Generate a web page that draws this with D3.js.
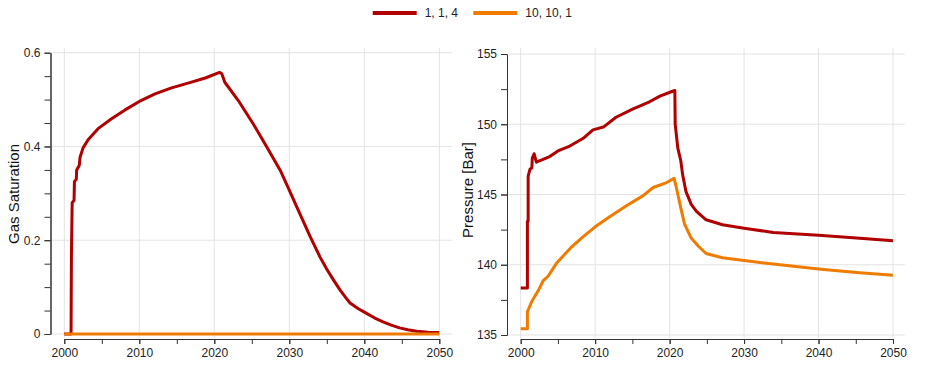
<!DOCTYPE html>
<html>
<head>
<meta charset="utf-8">
<script src="https://cdn.jsdelivr.net/npm/d3@7"></script>
<style>
  body { margin: 0; background: #fff; }
  svg { display: block; font-family: "Liberation Sans", Arial, sans-serif; }
  .grid line { stroke: #e3e3e3; stroke-width: 1; }
  .axis path, .axis line { stroke: #333; }
  .axis text { fill: #222; font-size: 12px; }
</style>
</head>
<body>
<svg width="925" height="366"></svg>
<script>
// series names + colours
var seriesNames = ["1, 1, 4", "10, 10, 1"];
var seriesColors = ["#b00000", "#ef7b00"];

// gas saturation, case "1, 1, 4"
var satYearsA = [2000, 2000.9, 2000.95, 2001.05, 2001.3, 2001.35, 2001.6, 2001.65, 2002.0, 2002.1,
  2002.5, 2003.2, 2004.5, 2006.3, 2008.1, 2010, 2012.1, 2014.3, 2016.5, 2018.8, 2020.7, 2021.0,
  2021.4, 2023.2, 2025.2, 2027, 2028.8, 2030.1, 2031.4, 2032.8, 2034.1, 2035.0, 2035.9, 2036.8,
  2037.5, 2038.1, 2039.2, 2040.3, 2041.4, 2042.5, 2043.6, 2044.7, 2045.8, 2047, 2048.5, 2050];
var satA = [0, 0, 0.17, 0.28, 0.285, 0.325, 0.33, 0.35, 0.36, 0.377,
  0.397, 0.415, 0.438, 0.459, 0.478, 0.496, 0.512, 0.525, 0.535, 0.546, 0.558, 0.555,
  0.537, 0.498, 0.448, 0.399, 0.349, 0.303, 0.257, 0.207, 0.164, 0.138, 0.115, 0.093,
  0.078, 0.066, 0.054, 0.044, 0.034, 0.026, 0.019, 0.013, 0.009, 0.006, 0.004, 0.003];

// gas saturation, case "10, 10, 1"
var satYearsB = [2000, 2010, 2020, 2030, 2040, 2050];
var satB = [0, 0, 0, 0, 0, 0];

// pressure [Bar], case "1, 1, 4"
var presYearsA = [2000, 2000.9, 2000.9, 2001.0, 2001.0, 2001.25, 2001.5, 2001.56, 2001.8, 2002.1,
  2003.0, 2003.9, 2005.0, 2006.6, 2008.4, 2009.7, 2011.1, 2012.8, 2015.1, 2017.3, 2018.7,
  2020.4, 2020.7, 2020.75, 2021.1, 2021.5, 2021.75, 2022.2, 2022.9, 2023.6, 2024.9, 2027.1,
  2030, 2033.9, 2040, 2045.1, 2050];
var presA = [138.35, 138.35, 143.1, 143.1, 146.3, 146.8, 146.9, 147.6, 147.9, 147.3,
  147.5, 147.7, 148.1, 148.45, 149.0, 149.6, 149.8, 150.5, 151.1, 151.6, 152.0,
  152.35, 152.4, 150.0, 148.3, 147.4, 146.4, 145.2, 144.3, 143.8, 143.2, 142.85,
  142.6, 142.3, 142.1, 141.9, 141.7];

// pressure [Bar], case "10, 10, 1"
var presYearsB = [2000, 2000.9, 2000.9, 2001.5, 2002.4, 2003.0, 2003.7, 2004.8, 2006.7, 2008.4,
  2010, 2011.9, 2014.2, 2016.4, 2017.8, 2019.6, 2020.6, 2020.9, 2021.5, 2022.0, 2022.9,
  2023.9, 2024.9, 2027.1, 2030, 2033.9, 2040, 2045.1, 2050];
var presB = [135.45, 135.45, 136.65, 137.4, 138.2, 138.85, 139.2, 140.1, 141.2, 142.0,
  142.7, 143.4, 144.2, 144.9, 145.5, 145.85, 146.15, 145.5, 144.05, 142.9, 141.9,
  141.3, 140.8, 140.5, 140.3, 140.05, 139.7, 139.45, 139.25];

// axis ticks
var xMajor = [2000, 2010, 2020, 2030, 2040, 2050];
var xMinor = d3.range(2000, 2051, 5);
var satMajor = [0, 0.2, 0.4, 0.6];
var satMinor = d3.range(0, 0.6001, 0.05);
var presMajor = [135, 140, 145, 150, 155];
var presMinor = d3.range(135, 155.01, 2.5);

function zip(xs, ys) {
  return xs.map(function(x, i) { return {x: x, y: ys[i]}; });
}

var svg = d3.select("svg");

function drawPanel(opt) {
  var g = svg.append("g");
  var x = d3.scaleLinear().domain([2000, 2050]).range(opt.xr);
  var y = d3.scaleLinear().domain(opt.yd).range(opt.yr);

  // grid
  var grid = g.append("g").attr("class", "grid");
  grid.selectAll(".gx").data(xMajor).enter().append("line")
    .attr("x1", function(d) { return x(d); }).attr("x2", function(d) { return x(d); })
    .attr("y1", opt.top).attr("y2", opt.axisY - 1);
  grid.selectAll(".gy").data(opt.major).enter().append("line")
    .attr("x1", opt.axisX + 1).attr("x2", opt.right)
    .attr("y1", function(d) { return y(d); }).attr("y2", function(d) { return y(d); });

  // x axis
  g.append("g").attr("class", "axis")
    .attr("transform", "translate(0," + opt.axisY + ")")
    .call(d3.axisBottom(x).tickValues(xMinor).tickSize(5).tickSizeOuter(0).tickFormat(""));
  g.append("g").attr("class", "axis")
    .attr("transform", "translate(0," + opt.axisY + ")")
    .call(d3.axisBottom(x).tickValues(xMajor).tickSize(5).tickSizeOuter(0).tickPadding(4).tickFormat(d3.format("d")));

  // y axis
  g.append("g").attr("class", "axis")
    .attr("transform", "translate(" + opt.axisX + ",0)")
    .call(d3.axisLeft(y).tickValues(opt.minor).tickSize(6).tickSizeOuter(0).tickFormat(""));
  g.append("g").attr("class", "axis")
    .attr("transform", "translate(" + opt.axisX + ",0)")
    .call(d3.axisLeft(y).tickValues(opt.major).tickSize(6).tickSizeOuter(0).tickPadding(4).tickFormat(opt.fmt));

  // title
  g.append("text")
    .attr("transform", "translate(" + opt.titleX + "," + opt.titleY + ") rotate(-90)")
    .attr("text-anchor", "middle")
    .attr("dominant-baseline", "central")
    .style("font-size", "15px")
    .style("fill", "#111")
    .text(opt.title);

  var line = d3.line()
    .x(function(d) { return x(d.x); })
    .y(function(d) { return y(d.y); });

  opt.series.forEach(function(s, i) {
    g.append("path")
      .datum(s)
      .attr("fill", "none")
      .attr("stroke", seriesColors[i])
      .attr("stroke-width", 3)
      .attr("stroke-linejoin", "round")
      .attr("d", line);
  });
}

drawPanel({
  xr: [64.3, 439.3], yd: [0, 0.6], yr: [334, 52.7],
  axisX: 50.5, axisY: 339, top: 48, right: 452,
  major: satMajor, minor: satMinor,
  fmt: function(d) { return d === 0 ? "0" : d3.format(".1f")(d); },
  title: "Gas Saturation", titleX: 13, titleY: 194,
  series: [zip(satYearsA, satA), zip(satYearsB, satB)]
});

drawPanel({
  xr: [520.7, 893], yd: [135, 155], yr: [335, 54],
  axisX: 507, axisY: 339, top: 48, right: 905,
  major: presMajor, minor: presMinor,
  fmt: d3.format("d"),
  title: "Pressure [Bar]", titleX: 467, titleY: 190,
  series: [zip(presYearsA, presA), zip(presYearsB, presB)]
});

// legend
var legX = [372.7, 473.3];
var legend = svg.append("g");
seriesNames.forEach(function(name, i) {
  legend.append("line")
    .attr("x1", legX[i]).attr("x2", legX[i] + 44)
    .attr("y1", 13).attr("y2", 13)
    .attr("stroke", seriesColors[i])
    .attr("stroke-width", 4);
  legend.append("text")
    .attr("x", legX[i] + 52).attr("y", 13)
    .attr("dominant-baseline", "central")
    .style("font-size", "12px")
    .style("fill", "#222")
    .text(name);
});
</script>
</body>
</html>
